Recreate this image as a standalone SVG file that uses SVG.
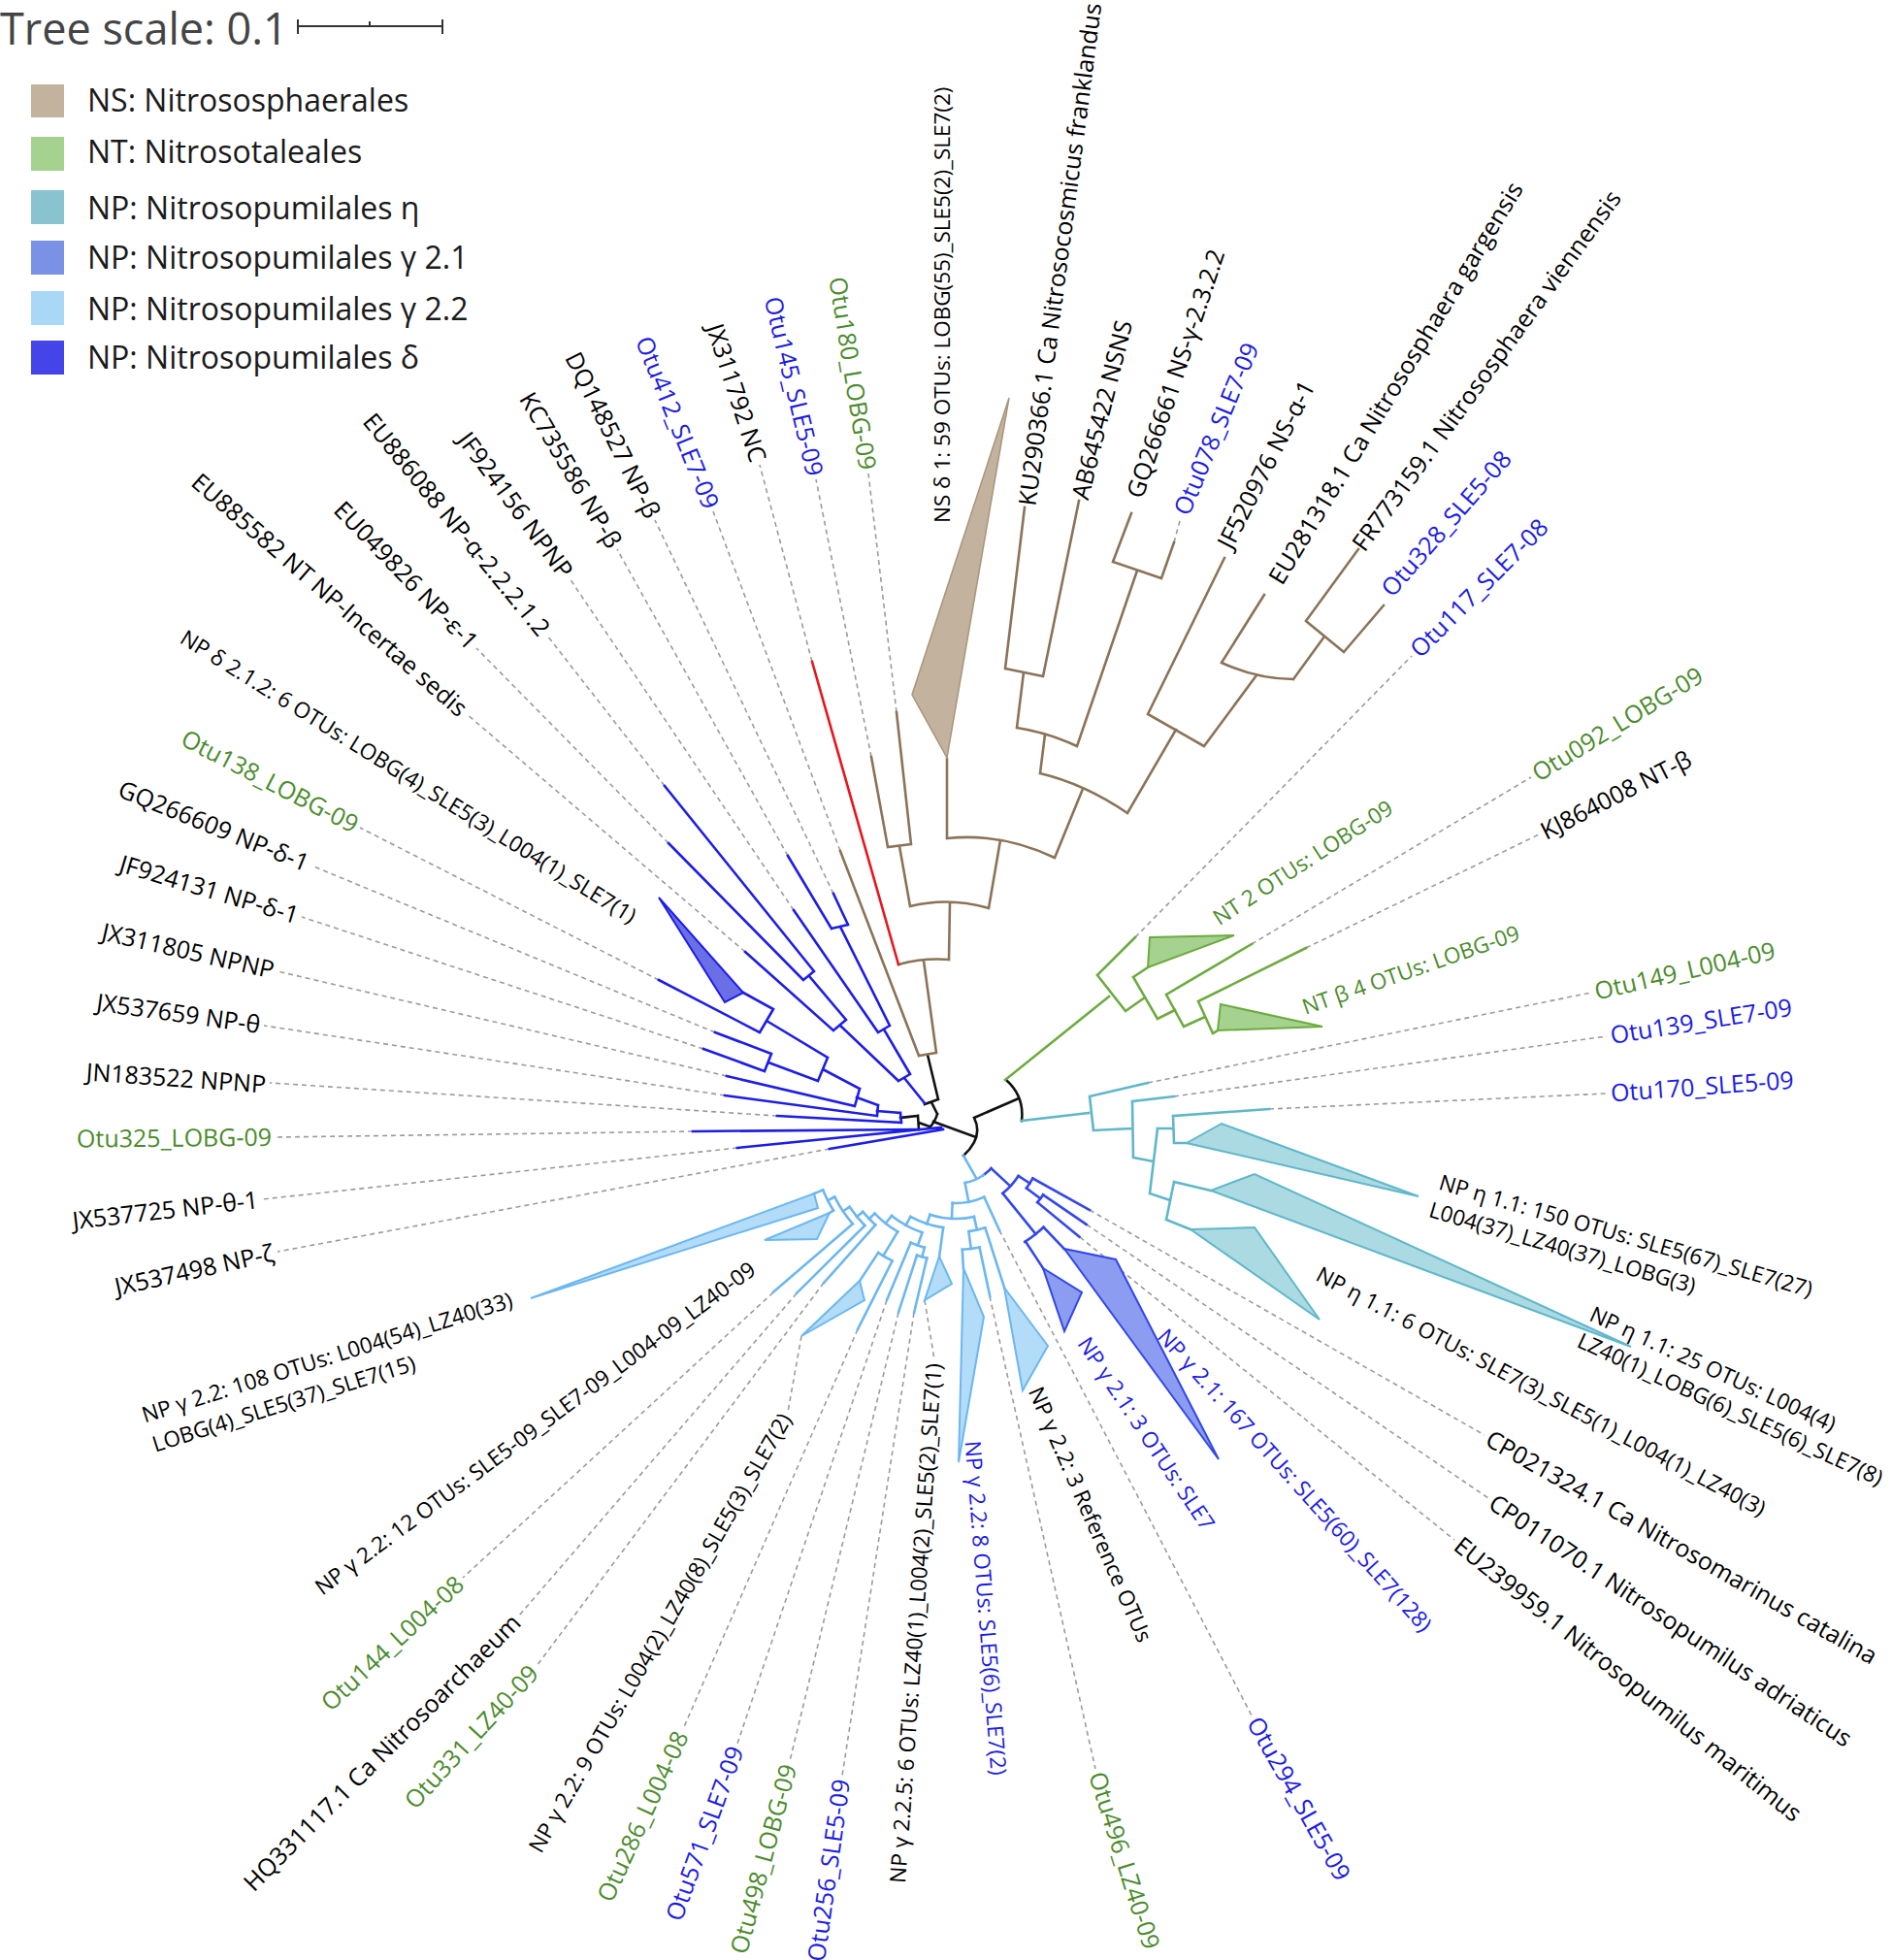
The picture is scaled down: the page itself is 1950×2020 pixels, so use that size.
<svg xmlns="http://www.w3.org/2000/svg" width="1950" height="2020" viewBox="0 0 1950 2020">
<style>
text{font-family:"Open Sans","Noto Sans","DejaVu Sans",sans-serif}
.t{font-size:25px}
.c{font-size:22.5px}
.k{fill:#000}.b{fill:#1b1be3}.g{fill:#4a8b2b}
.s{text-anchor:start}.e{text-anchor:end}
.L{fill:none;stroke-width:2.6;stroke-linecap:square;stroke-linejoin:round}
.ns{stroke:#8b7357}.red{stroke:#e8141c}.nt{stroke:#6cab3f}.et{stroke:#5fb7c9}
.de{stroke:#1d1de6}.g1{stroke:#3247e8}.g2{stroke:#6cb7ef}.rt{stroke:#111}
.d{fill:none;stroke:#9b9b9b;stroke-width:1.6;stroke-dasharray:5 4}
.tns{fill:#c2b29e;stroke:#a8957c;stroke-width:1.5}
.tnt{fill:#a6d28f;stroke:#6cab3f;stroke-width:2}
.tet{fill:#abdae3;stroke:#5fb7c9;stroke-width:2}
.tde{fill:#6a6fe8;stroke:#1d1de6;stroke-width:2}
.tg1{fill:#8b9cf1;stroke:#3247e8;stroke-width:2}
.tg2{fill:#b3dcf8;stroke:#6cb7ef;stroke-width:2}
.lg{font-size:32px;fill:#1a1a1a}
</style>

<g id="scale">
<text x="0" y="46" font-size="45" fill="#444">Tree scale: 0.1</text>
<path d="M307,27H456M307,20V35M456,20V35M381,22V27" stroke="#333" stroke-width="2" fill="none"/>
</g>

<g id="legend">
<rect x="32" y="87" width="34" height="34" fill="#c2b29e"/>
<text class="lg" x="90" y="115">NS: Nitrososphaerales</text>
<rect x="32" y="141" width="34" height="35" fill="#a6d28f"/>
<text class="lg" x="90" y="168">NT: Nitrosotaleales</text>
<rect x="32" y="196" width="34" height="35" fill="#89c3cf"/>
<text class="lg" x="90" y="226">NP: Nitrosopumilales η</text>
<rect x="32" y="248" width="34" height="35" fill="#7b91e5"/>
<text class="lg" x="90" y="277">NP: Nitrosopumilales γ 2.1</text>
<rect x="32" y="300" width="34" height="35" fill="#a9d8f7"/>
<text class="lg" x="90" y="330">NP: Nitrosopumilales γ 2.2</text>
<rect x="32" y="351" width="34" height="35" fill="#4444e8"/>
<text class="lg" x="90" y="380">NP: Nitrosopumilales δ</text>
</g>

<g id="connectors">
<path class="d" d="M866,877L735,527M837,682L783,479M898,780L841,494M924,734L895,488M1210,559L1216,537M1170,966L1455,676M1290,973L1578,801M1346,977L1586,860M1183,1116L1640,1023M1210,1130L1656,1068M1308,1143L1656,1127M1123,1247L1530,1479M1120,1262L1534,1544M1113,1275L1499,1587M1030,1268L1290,1768M1020,1336L1129,1823M942,1353L868,1830M926,1353L814,1815M914,1340L760,1797M884,1370L704,1782M849,1322L553,1717M821,1333L535,1665M797,1332L477,1626M826,1377L812,1455M953,1340L963,1401"/>
<path class="d" d="M685,810L564,655M689,869L491,668M768,981L481,736M812,882L636,566M859,921L675,536M818,938L587,596M679,1010L371,853M737,1064L321,892M725,1081L311,945M749,1109L286,1001M747,1129L272,1057M801,1150L278,1116M714,1166L284,1172M760,1183L270,1236M855,1184L286,1290"/>

<g id="branches-root">
<path class="L rt" d="M1004,1152Q1014,1172 993,1191M1004,1152L1050,1132M1037,1113Q1056,1130 1053,1155M1006,1172L962,1156M967,1133L956,1087M953,1138L967,1133M960,1136L966,1148M966,1148Q964,1156 958,1162M958,1161L947,1157M946,1150L947,1164M946,1150L928,1152"/>
<path class="L g2" d="M993,1191L1006,1214"/>
</g>

<g id="branches-ns">
<path class="L ns" d="M947,1088L965,1085M947,1088L866,877M965,1085L952,990M926,994Q952,987 978,989M978,989L979,930M938,934Q978,924 1019,936M938,934L927,872M915,873L939,870M915,873L898,780M939,870L924,734M1019,936L1031,866M976,864Q1032,858 1087,884M976,864L976,782M1087,884L1116,813M1072,797Q1118,808 1162,838M1072,797L1077,757M1048,750Q1080,755 1110,769M1048,750L1055,693M1036,689L1075,697M1036,689L1056,523M1075,697L1112,516M1110,769L1172,588M1147,579L1197,596M1147,579L1166,529M1197,596L1210,559M1162,838L1212,752M1183,736L1241,769M1183,736L1262,575M1241,769L1295,696M1259,683Q1296,700 1333,700M1259,683L1303,613M1333,700L1365,656M1346,640L1385,672M1346,640L1400,566M1385,672L1426,624"/>
<path class="L red" d="M926,994L837,682"/>
<polygon id="clade-ns-d1" class="tns" points="976,781 940,716 1040,410"/>
</g>

<g id="branches-nt">
<path class="L nt" d="M1036,1113L1143,1027M1131,1005L1160,1042M1131,1005L1170,966M1160,1042L1180,1028M1168,1007L1193,1050M1168,1007L1183,997M1193,1050L1211,1041M1202,1025L1220,1058M1202,1025L1290,973M1220,1058L1242,1048M1235,1032L1250,1065M1235,1032L1346,977M1250,1065L1255,1062"/>
<polygon id="clade-nt2" class="tnt" points="1183,997 1185,966 1272,964"/>
<polygon id="clade-ntb" class="tnt" points="1255,1062 1258,1035 1363,1058"/>
</g>

<g id="branches-eta">
<path class="L et" d="M1053,1155L1122,1147M1123,1130L1127,1165M1123,1130L1183,1116M1127,1165L1167,1163M1167,1135L1168,1193M1167,1135L1210,1130M1168,1193L1189,1197M1193,1163L1185,1230M1193,1163L1209,1163M1209,1150L1210,1178M1209,1150L1308,1143M1210,1178L1223,1178M1185,1230L1206,1237M1210,1218L1202,1257M1210,1218L1248,1227M1202,1257L1227,1267"/>
<polygon id="clade-eta150" class="tet" points="1223,1178 1259,1158 1462,1233"/>
<polygon id="clade-eta25" class="tet" points="1248,1227 1293,1210 1681,1388"/>
<polygon id="clade-eta6" class="tet" points="1227,1267 1293,1265 1360,1360"/>
</g>

<g id="branches-delta">
<path class="L de" d="M839,1001L685,810M828,1010L689,869M828,1010L839,1001M834,1006L872,1051M859,1062L768,981M859,1062L872,1051M866,1057L926,1114M857,957L812,882M874,953L859,921M857,957L874,953M866,955L917,1057M905,1064L818,938M905,1064L917,1057M911,1061L938,1107M926,1114L938,1107M932,1111L953,1137"/>
<path class="L de" d="M928,1147L929,1157M929,1157L801,1150M928,1147L904,1145M905,1139L904,1150M904,1150L747,1129M905,1139L883,1131M886,1122L881,1140M881,1140L749,1109M886,1122L848,1102M853,1090L843,1114M853,1090L790,1052M797,1040L783,1064M783,1064L679,1010M797,1040L766,1023M843,1114L792,1095M795,1086L788,1104M795,1086L737,1064M788,1104L725,1081M947,1164L714,1166M970,1162L760,1183M972,1164L855,1184"/>
<polygon id="clade-d212" class="tde" points="766,1023 747,1033 679,925"/>
</g>

<g id="branches-gamma" transform="translate(985,1170)">
<g class="L g1">
<circle r="50" stroke-dasharray="10.5 3000" transform="rotate(43)"/>
<line x1="50" x2="77" transform="rotate(43)"/>
<circle r="77" stroke-dasharray="24.2 3000" transform="rotate(33)"/>
<line x1="77" x2="91" transform="rotate(33)"/>
<circle r="91" stroke-dasharray="12.1 3000" transform="rotate(29.2)"/>
<line x1="91" x2="158" transform="rotate(29.2)"/>
<line x1="91" x2="109" transform="rotate(36.8)"/>
<circle r="109" stroke-dasharray="9.7 3000" transform="rotate(34.3)"/>
<line x1="109" x2="163" transform="rotate(34.3)"/>
<line x1="109" x2="165" transform="rotate(39.4)"/>
<line x1="77" x2="131" transform="rotate(51)"/>
<circle r="131" stroke-dasharray="24.5 3000" transform="rotate(46.3)"/>
<line x1="131" x2="162" transform="rotate(46.3)"/>
<line x1="131" x2="164" transform="rotate(56.7)"/>
</g>
<g class="L g2">
<circle r="50" stroke-dasharray="20.9 3000" transform="rotate(55)"/>
<line x1="50" x2="70" transform="rotate(79)"/>
<circle r="70" stroke-dasharray="33.5 3000" transform="rotate(65.3)"/>
<line x1="70" x2="108" transform="rotate(65.3)"/>
<line x1="70" x2="86" transform="rotate(92.7)"/>
<circle r="86" stroke-dasharray="46.1 3000" transform="rotate(77.3)"/>
<line x1="86" x2="100" transform="rotate(77.3)"/>
<circle r="100" stroke-dasharray="17.45 3000" transform="rotate(72.3)"/>
<line x1="100" x2="165" transform="rotate(72.3)"/>
<line x1="100" x2="118" transform="rotate(82.3)"/>
<circle r="118" stroke-dasharray="17.9 3000" transform="rotate(78)"/>
<line x1="118" x2="170" transform="rotate(78)"/>
<line x1="118" x2="137" transform="rotate(86.7)"/>
<line x1="86" x2="96" transform="rotate(108)"/>
<circle r="96" stroke-dasharray="35.7 3000" transform="rotate(97.7)"/>
<line x1="96" x2="126" transform="rotate(97.7)"/>
<line x1="96" x2="106" transform="rotate(119)"/>
<circle r="106" stroke-dasharray="36.1 3000" transform="rotate(109)"/>
<line x1="106" x2="120" transform="rotate(109)"/>
<circle r="120" stroke-dasharray="15.1 3000" transform="rotate(105.5)"/>
<line x1="120" x2="130" transform="rotate(105.5)"/>
<circle r="130" stroke-dasharray="10.7 3000" transform="rotate(103.2)"/>
<line x1="130" x2="188" transform="rotate(103.2)"/>
<line x1="130" x2="192" transform="rotate(107.9)"/>
<line x1="120" x2="184" transform="rotate(112.7)"/>
<line x1="106" x2="116" transform="rotate(128.5)"/>
<circle r="116" stroke-dasharray="30.4 3000" transform="rotate(121)"/>
<line x1="116" x2="145" transform="rotate(121)"/>
<circle r="145" stroke-dasharray="16.7 3000" transform="rotate(116.8)"/>
<line x1="145" x2="224" transform="rotate(116.8)"/>
<line x1="145" x2="180" transform="rotate(123.4)"/>
<line x1="116" x2="124" transform="rotate(136)"/>
<circle r="124" stroke-dasharray="18.8 3000" transform="rotate(131.8)"/>
<line x1="124" x2="204" transform="rotate(131.8)"/>
<line x1="124" x2="132" transform="rotate(140.5)"/>
<circle r="132" stroke-dasharray="24.9 3000" transform="rotate(135.2)"/>
<line x1="132" x2="231" transform="rotate(135.2)"/>
<line x1="132" x2="140" transform="rotate(146)"/>
<circle r="140" stroke-dasharray="33.5 3000" transform="rotate(139.3)"/>
<line x1="140" x2="248" transform="rotate(139.3)"/>
<line x1="140" x2="148" transform="rotate(153)"/>
<circle r="148" stroke-dasharray="23.8 3000" transform="rotate(148.4)"/>
<line x1="148" x2="153" transform="rotate(148.4)"/>
<line x1="148" x2="158" transform="rotate(157.6)"/>
</g>
</g>
<polygon id="clade-g21-167" class="tg1" points="1097,1287 1150,1298 1256,1504"/>
<polygon id="clade-g21-3" class="tg1" points="1075,1307 1115,1332 1097,1372"/>
<polygon id="clade-g22-108" class="tg2" points="839,1230 843,1245 547,1338"/>
<polygon id="clade-g22-12" class="tg2" points="855,1250 842,1277 788,1278"/>
<polygon id="clade-g22-9" class="tg2" points="886,1320 891,1340 826,1377"/>
<polygon id="clade-g22-6" class="tg2" points="968,1295 981,1323 953,1340"/>
<polygon id="clade-g22-8" class="tg2" points="993,1307 1014,1357 988,1507"/>
<polygon id="clade-g22-3ref" class="tg2" points="1035,1327 1080,1387 1054,1433"/>
</g>

<g id="labels-right">
<g id="n-nsd1"><text class="c k s" transform="translate(971,543) rotate(-90)" dx="4" dy="0.35em">NS δ 1: 59 OTUs: LOBG(55)_SLE5(2)_SLE7(2)</text></g>
<g id="n-KU290366"><text class="t k s" transform="translate(1058,525) rotate(-82.5)" dx="4" dy="0.35em">KU290366.1 Ca Nitrosocosmicus franklandus</text></g>
<g id="n-AB645422"><text class="t k s" transform="translate(1112,518) rotate(-76)" dx="4" dy="0.35em">AB645422 NSNS</text></g>
<g id="n-GQ266661"><text class="t k s" transform="translate(1168,516) rotate(-71.5)" dx="4" dy="0.35em">GQ266661 NS-γ-2.3.2.2</text></g>
<g id="n-Otu078"><text class="t b s" transform="translate(1216,533) rotate(-67.5)" dx="4" dy="0.35em">Otu078_SLE7-09</text></g>
<g id="n-JF520976"><text class="t k s" transform="translate(1260,567) rotate(-63)" dx="4" dy="0.35em">JF520976 NS-α-1</text></g>
<g id="n-EU281318"><text class="t k s" transform="translate(1312,603) rotate(-58.7)" dx="4" dy="0.35em">EU281318.1 Ca Nitrososphaera gargensis</text></g>
<g id="n-FR773159"><text class="t k s" transform="translate(1397,568) rotate(-54)" dx="4" dy="0.35em">FR773159.1 Nitrososphaera viennensis</text></g>
<g id="n-Otu328"><text class="t b s" transform="translate(1426,614) rotate(-49)" dx="4" dy="0.35em">Otu328_SLE5-08</text></g>
<g id="n-Otu117"><text class="t b s" transform="translate(1455,676) rotate(-45.2)" dx="4" dy="0.35em">Otu117_SLE7-08</text></g>
<g id="n-Otu092"><text class="t g s" transform="translate(1578,801) rotate(-31.5)" dx="4" dy="0.35em">Otu092_LOBG-09</text></g>
<g id="n-KJ864008"><text class="t k s" transform="translate(1586,860) rotate(-27)" dx="4" dy="0.35em">KJ864008 NT-β</text></g>
<g id="n-nt2"><text class="c g s" transform="translate(1249,950) rotate(-33)" dx="4" dy="0.35em">NT 2 OTUs: LOBG-09</text></g>
<g id="n-ntb"><text class="c g s" transform="translate(1339,1040) rotate(-19.3)" dx="4" dy="0.35em">NT β 4 OTUs: LOBG-09</text></g>
<g id="n-Otu149"><text class="t g s" transform="translate(1640,1023) rotate(-13)" dx="4" dy="0.35em">Otu149_L004-09</text></g>
<g id="n-Otu139"><text class="t b s" transform="translate(1656,1068) rotate(-9)" dx="4" dy="0.35em">Otu139_SLE7-09</text></g>
<g id="n-Otu170"><text class="t b s" transform="translate(1656,1127) rotate(-4.2)" dx="4" dy="0.35em">Otu170_SLE5-09</text></g>
<g id="n-eta150"><text class="c k s" transform="translate(1484,1218) rotate(16.2)"><tspan x="0" y="0" dy="0.35em">NP η 1.1: 150 OTUs: SLE5(67)_SLE7(27)</tspan><tspan x="-2" y="30" dy="0.35em">L004(37)_LZ40(37)_LOBG(3)</tspan></text></g>
<g id="n-eta25"><text class="c k s" transform="translate(1640,1353) rotate(24.8)"><tspan x="0" y="0" dy="0.35em">NP η 1.1: 25 OTUs: L004(4)</tspan><tspan x="0" y="30" dy="0.35em">LZ40(1)_LOBG(6)_SLE5(6)_SLE7(8)</tspan></text></g>
<g id="n-eta6"><text class="c k s" transform="translate(1355,1310) rotate(28)" dx="4" dy="0.35em">NP η 1.1: 6 OTUs: SLE7(3)_SLE5(1)_L004(1)_LZ40(3)</text></g>
<g id="n-CP021324"><text class="t k s" transform="translate(1530,1479) rotate(29.7)" dx="4" dy="0.35em">CP021324.1 Ca Nitrosomarinus catalina</text></g>
<g id="n-CP011070"><text class="t k s" transform="translate(1534,1544) rotate(33.9)" dx="4" dy="0.35em">CP011070.1 Nitrosopumilus adriaticus</text></g>
<g id="n-EU239959"><text class="t k s" transform="translate(1499,1587) rotate(38.8)" dx="4" dy="0.35em">EU239959.1 Nitrosopumilus maritimus</text></g>
<g id="n-Otu294"><text class="t b s" transform="translate(1290,1768) rotate(60.5)" dx="4" dy="0.35em">Otu294_SLE5-09</text></g>
<g id="n-g21-167"><text class="c b s" transform="translate(1195,1370) rotate(48.1)" dx="4" dy="0.35em">NP γ 2.1: 167 OTUs: SLE5(60)_SLE7(128)</text></g>
<g id="n-g21-3"><text class="c b s" transform="translate(1114,1377) rotate(56.2)" dx="4" dy="0.35em">NP γ 2.1: 3 OTUs: SLE7</text></g>
<g id="n-g22-3ref"><text class="c k s" transform="translate(1065,1427) rotate(66.4)" dx="4" dy="0.35em">NP γ 2.2: 3 Reference OTUs</text></g>
<g id="n-Otu496"><text class="t g s" transform="translate(1129,1823) rotate(72.5)" dx="4" dy="0.35em">Otu496_LZ40-09</text></g>
<g id="n-g22-8"><text class="c b s" transform="translate(1002,1481) rotate(85.5)" dx="4" dy="0.35em">NP γ 2.2: 8 OTUs: SLE5(6)_SLE7(2)</text></g>
</g>

<g id="labels-left">
<g id="n-g225"><text class="c k e" transform="translate(963,1401) rotate(-86)" dx="-4" dy="0.35em">NP γ 2.2.5: 6 OTUs: LZ40(1)_L004(2)_SLE5(2)_SLE7(1)</text></g>
<g id="n-Otu256"><text class="t b e" transform="translate(868,1830) rotate(-82)" dx="-4" dy="0.35em">Otu256_SLE5-09</text></g>
<g id="n-Otu498"><text class="t g e" transform="translate(814,1815) rotate(-75)" dx="-4" dy="0.35em">Otu498_LOBG-09</text></g>
<g id="n-Otu571"><text class="t b e" transform="translate(760,1797) rotate(-70)" dx="-4" dy="0.35em">Otu571_SLE7-09</text></g>
<g id="n-Otu286"><text class="t g e" transform="translate(704,1782) rotate(-65.3)" dx="-4" dy="0.35em">Otu286_L004-08</text></g>
<g id="n-g22-9"><text class="c k e" transform="translate(812,1455) rotate(-60)" dx="-4" dy="0.35em">NP γ 2.2: 9 OTUs: L004(2)_LZ40(8)_SLE5(3)_SLE7(2)</text></g>
<g id="n-Otu331"><text class="t g e" transform="translate(553,1717) rotate(-47.5)" dx="-4" dy="0.35em">Otu331_LZ40-09</text></g>
<g id="n-HQ331117"><text class="t k e" transform="translate(535,1665) rotate(-45)" dx="-4" dy="0.35em">HQ331117.1 Ca Nitrosoarchaeum</text></g>
<g id="n-Otu144"><text class="t g e" transform="translate(477,1626) rotate(-43)" dx="-4" dy="0.35em">Otu144_L004-08</text></g>
<g id="n-g22-12"><text class="c k e" transform="translate(779,1303) rotate(-36.6)" dx="-4" dy="0.35em">NP γ 2.2: 12 OTUs: SLE5-09_SLE7-09_L004-09_LZ40-09</text></g>
<g id="n-g22-108"><text class="c k s" transform="translate(147,1459) rotate(-17.5)"><tspan x="0" y="0" dy="0.35em">NP γ 2.2: 108 OTUs: L004(54)_LZ40(33)</tspan><tspan x="1" y="32" dy="0.35em">LOBG(4)_SLE5(37)_SLE7(15)</tspan></text></g>
<g id="n-JX537498"><text class="t k e" transform="translate(286,1290) rotate(-12.4)" dx="-4" dy="0.35em">JX537498 NP-ζ</text></g>
<g id="n-JX537725"><text class="t k e" transform="translate(270,1236) rotate(-6.5)" dx="-4" dy="0.35em">JX537725 NP-θ-1</text></g>
<g id="n-Otu325"><text class="t g e" transform="translate(284,1172) rotate(-0.5)" dx="-4" dy="0.35em">Otu325_LOBG-09</text></g>
<g id="n-JN183522"><text class="t k e" transform="translate(278,1118) rotate(4)" dx="-4" dy="0.35em">JN183522 NPNP</text></g>
<g id="n-JX537659"><text class="t k e" transform="translate(272,1057) rotate(8)" dx="-4" dy="0.35em">JX537659 NP-θ</text></g>
<g id="n-JX311805"><text class="t k e" transform="translate(286,1001) rotate(12.8)" dx="-4" dy="0.35em">JX311805 NPNP</text></g>
<g id="n-JF924131"><text class="t k e" transform="translate(311,945) rotate(16.5)" dx="-4" dy="0.35em">JF924131 NP-δ-1</text></g>
<g id="n-GQ266609"><text class="t k e" transform="translate(321,892) rotate(22)" dx="-4" dy="0.35em">GQ266609 NP-δ-1</text></g>
<g id="n-Otu138"><text class="t g e" transform="translate(371,853) rotate(27.2)" dx="-4" dy="0.35em">Otu138_LOBG-09</text></g>
<g id="n-d212"><text class="c k e" transform="translate(657,948) rotate(32)" dx="-4" dy="0.35em">NP δ 2.1.2: 6 OTUs: LOBG(4)_SLE5(3)_L004(1)_SLE7(1)</text></g>
<g id="n-EU885582"><text class="t k e" transform="translate(481,736) rotate(41)" dx="-4" dy="0.35em">EU885582 NT NP-Incertae sedis</text></g>
<g id="n-EU049826"><text class="t k e" transform="translate(491,668) rotate(46)" dx="-4" dy="0.35em">EU049826 NP-ε-1</text></g>
<g id="n-EU886088"><text class="t k e" transform="translate(564,655) rotate(50.7)" dx="-4" dy="0.35em">EU886088 NP-α-2.2.2.1.2</text></g>
<g id="n-JF924156"><text class="t k e" transform="translate(587,596) rotate(53.5)" dx="-4" dy="0.35em">JF924156 NPNP</text></g>
<g id="n-KC735586"><text class="t k e" transform="translate(636,566) rotate(59.5)" dx="-4" dy="0.35em">KC735586 NP-β</text></g>
<g id="n-DQ148527"><text class="t k e" transform="translate(675,536) rotate(63.5)" dx="-4" dy="0.35em">DQ148527 NP-β</text></g>
<g id="n-Otu412"><text class="t b e" transform="translate(735,527) rotate(68)" dx="-4" dy="0.35em">Otu412_SLE7-09</text></g>
<g id="n-JX311792"><text class="t k e" transform="translate(783,479) rotate(72)" dx="-4" dy="0.35em">JX311792 NC</text></g>
<g id="n-Otu145"><text class="t b e" transform="translate(841,494) rotate(76.5)" dx="-4" dy="0.35em">Otu145_SLE5-09</text></g>
<g id="n-Otu180"><text class="t g e" transform="translate(895,488) rotate(81)" dx="-4" dy="0.35em">Otu180_LOBG-09</text></g>
</g>
</svg>
